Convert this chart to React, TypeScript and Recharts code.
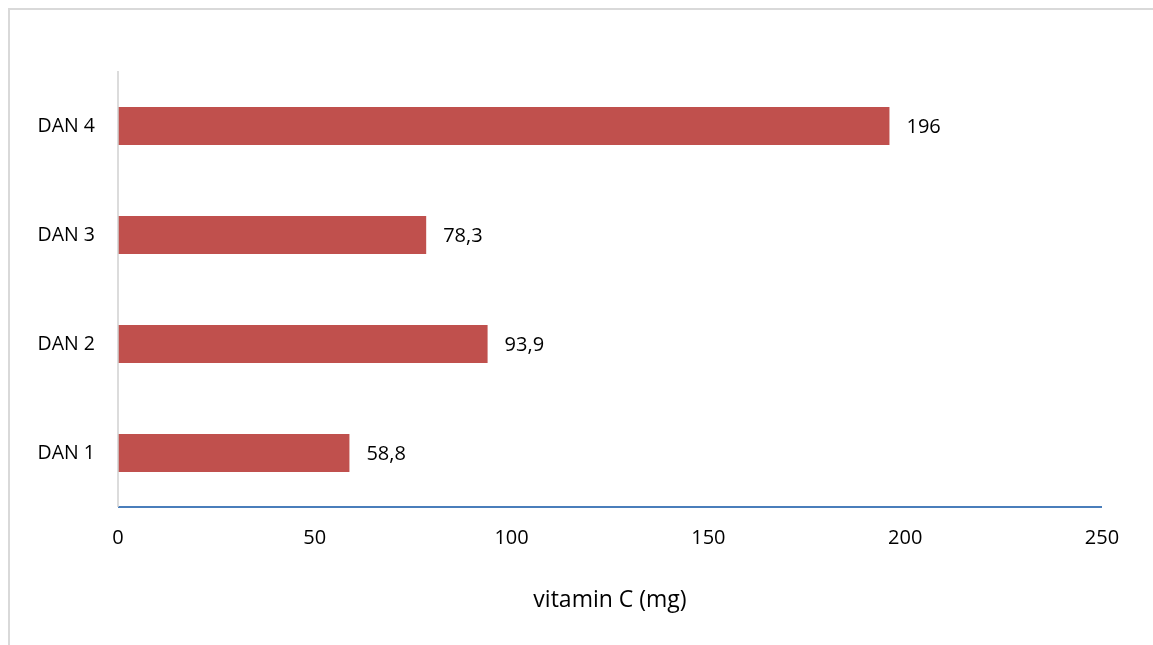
import { BarChart, Bar, XAxis, YAxis, LabelList } from "recharts";

const days = ["DAN 1", "DAN 2", "DAN 3", "DAN 4"];
const vitaminC = [58.8, 93.9, 78.3, 196];
const xTicks = [0, 50, 100, 150, 200, 250];

const data = days.map((day, i) => ({ day, value: vitaminC[i] }));

const FONT = "'Open Sans', sans-serif";
const BAR_COLOR = "#c0504d";

export default function App() {
  return (
    <div style={{ width: 1130, height: 620, paddingTop: 2, paddingLeft: 2, fontFamily: FONT }}>
      {/* chart frame, only left and top edges are visible in the original */}
      <div
        style={{
          position: "fixed",
          left: 8,
          top: 8,
          width: 1145,
          height: 637,
          borderLeft: "2px solid #d9d9d9",
          borderTop: "2px solid #d9d9d9",
          pointerEvents: "none",
        }}
      />
      <BarChart
        width={1130}
        height={620}
        data={data}
        layout="vertical"
        margin={{ top: 61, right: 38, bottom: 63, left: 0 }}
      >
        <XAxis
          type="number"
          domain={[0, 250]}
          ticks={xTicks}
          interval={0}
          height={60}
          tickLine={false}
          tickSize={0}
          tickMargin={23}
          axisLine={{ stroke: "#4a7ebb", strokeWidth: 2 }}
          tick={{ fill: "#000", fontSize: 20, fontFamily: FONT }}
          label={{
            value: "vitamin C (mg)",
            position: "bottom",
            offset: 24,
            fill: "#000",
            fontSize: 23,
            fontFamily: FONT,
          }}
        />
        <YAxis
          type="category"
          dataKey="day"
          reversed
          width={108}
          tickLine={false}
          tickSize={0}
          tickMargin={23}
          axisLine={{ stroke: "#d0d0d0", strokeWidth: 1.5 }}
          tick={{ fill: "#000", fontSize: 19.5, fontFamily: FONT }}
        />
        <Bar dataKey="value" fill={BAR_COLOR} barSize={38} isAnimationActive={false}>
          <LabelList
            dataKey="value"
            position="right"
            offset={17}
            fill="#000"
            fontSize={20}
            fontFamily={FONT}
            formatter={(v: number) => String(v).replace(".", ",")}
          />
        </Bar>
      </BarChart>
    </div>
  );
}
